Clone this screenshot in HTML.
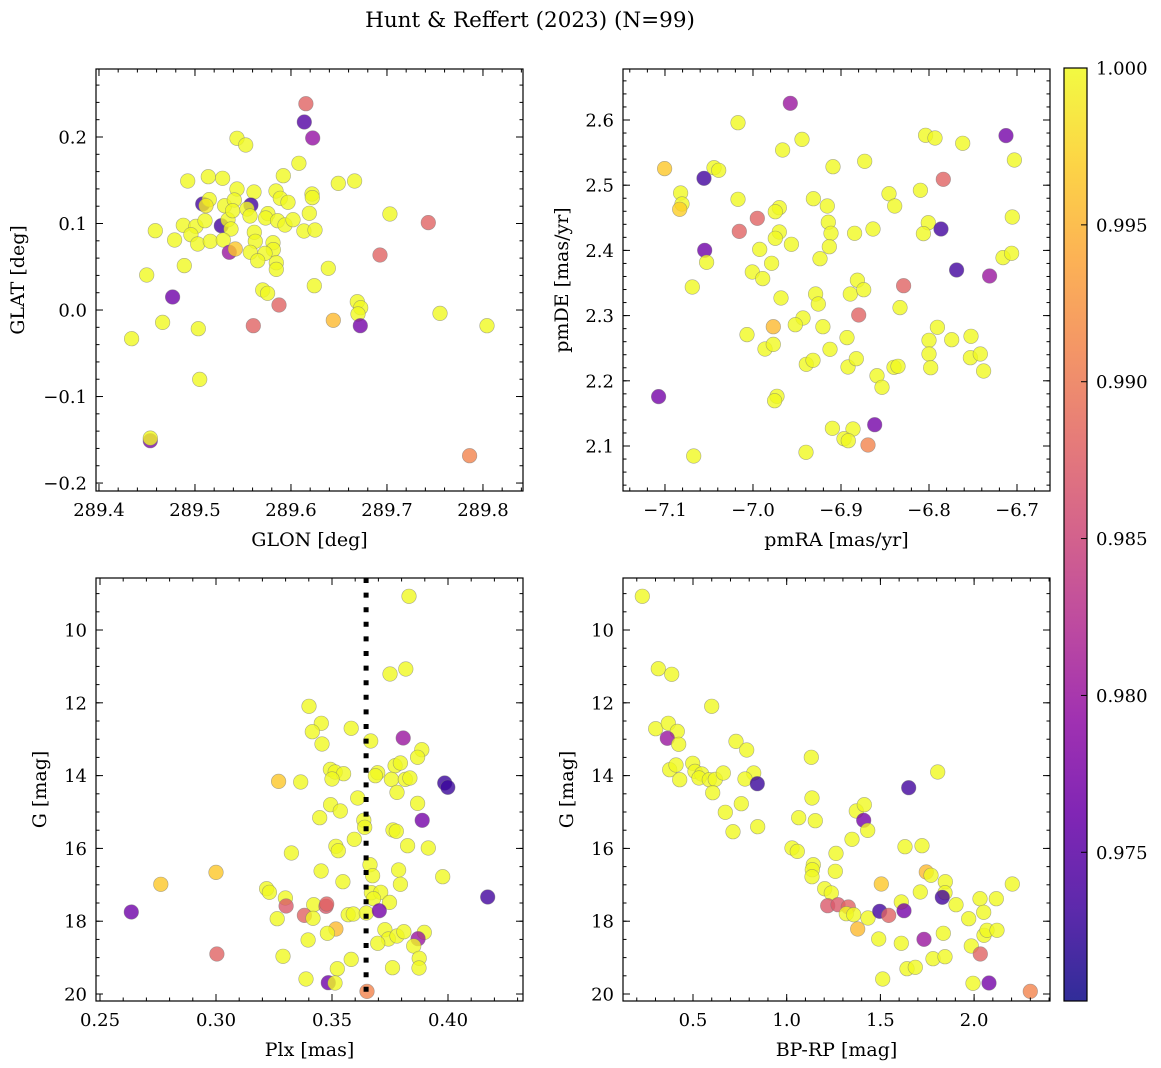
<!DOCTYPE html>
<html><head><meta charset="utf-8"><style>
html,body{margin:0;padding:0;background:#fff;}
svg{display:block;font-family:"DejaVu Serif","Liberation Serif",serif;}
</style></head><body>
<svg id="fig" width="1161" height="1068" viewBox="0 0 1161 1068" xmlns="http://www.w3.org/2000/svg">
<defs><linearGradient id="cbgrad" x1="0" y1="1" x2="0" y2="0">
<stop offset="0" stop-color="#0d0887"/><stop offset="0.1" stop-color="#41049d"/><stop offset="0.2" stop-color="#6a00a8"/><stop offset="0.3" stop-color="#8f0da4"/><stop offset="0.4" stop-color="#b12a90"/><stop offset="0.5" stop-color="#cc4778"/><stop offset="0.6" stop-color="#e16462"/><stop offset="0.7" stop-color="#f2844b"/><stop offset="0.8" stop-color="#fca636"/><stop offset="0.9" stop-color="#fcce25"/><stop offset="1" stop-color="#f0f921"/>
</linearGradient></defs>
<text x="530" y="27" text-anchor="middle" font-size="21.5">Hunt &amp; Reffert (2023) (N=99)</text>
</svg>
<script>
// ---- Panel 1: GLON vs GLAT ----
const glon=[289.6156,289.6139,289.6226,289.5438,289.5528,289.6083,289.4924,289.5139,289.5288,289.5920,289.6493,289.6663,289.5438,289.5615,289.5844,289.5889,289.5969,289.6219,289.6222,289.6191,289.7031,289.7431,289.6927,289.5080,289.5149,289.5115,289.5309,289.5410,289.5583,289.5542,289.5573,289.5760,289.5736,289.5861,289.5938,289.6021,289.5274,289.5344,289.5375,289.5392,289.4878,289.5010,289.5104,289.4587,289.4958,289.5028,289.5160,289.5295,289.4788,289.6135,289.6250,289.5618,289.5628,289.5813,289.5816,289.5576,289.5729,289.5653,289.5847,289.5847,289.5358,289.5420,289.4889,289.4497,289.6389,289.6243,289.5705,289.5757,289.4767,289.5875,289.6691,289.6726,289.6698,289.6722,289.6441,289.5608,289.7552,289.8042,289.4663,289.5035,289.4340,289.5049,289.4535,289.4535,289.7861];
const glat=[0.2385,0.2173,0.1988,0.1985,0.1908,0.1696,0.1491,0.1541,0.1522,0.1553,0.1464,0.1491,0.1399,0.1364,0.1376,0.1291,0.1245,0.1341,0.1299,0.1118,0.1110,0.1010,0.0636,0.1225,0.1276,0.1206,0.1206,0.1272,0.1214,0.1168,0.1087,0.1114,0.1064,0.1033,0.0983,0.1044,0.0975,0.1044,0.0936,0.1148,0.0979,0.0967,0.1033,0.0917,0.0871,0.0763,0.0794,0.0809,0.0809,0.0913,0.0925,0.0898,0.0794,0.0778,0.0698,0.0667,0.0655,0.0570,0.0547,0.0470,0.0667,0.0705,0.0513,0.0405,0.0482,0.0281,0.0231,0.0193,0.0150,0.0058,0.0096,0.0027,-0.0046,-0.0181,-0.0119,-0.0181,-0.0039,-0.0181,-0.0143,-0.0216,-0.0331,-0.0802,-0.1511,-0.1480,-0.1684];
const prob1=[0.988,0.9745,0.9795,1,1,1,1,1,1,1,1,1,1,1,1,1,1,1,1,1,1,0.988,0.988,0.9733,1,0.999,1,1,0.9733,1,1,1,1,1,1,1,0.9733,1,1,1,1,1,1,1,1,1,1,1,1,1,1,1,1,1,1,1,1,1,1,1,0.980,0.9965,1,1,1,1,1,1,0.9765,0.988,1,1,1,0.977,0.9955,0.988,1,1,1,1,1,1,0.9775,1,0.991];
// ---- Panel 2: pmRA vs pmDE ----
const pmra=[-6.9576,-7.0170,-6.9443,-6.9663,-7.1004,-7.0557,-7.0443,-7.0390,-6.9091,-6.8731,-6.8038,-6.7932,-6.7617,-6.7125,-6.7030,-6.7837,-7.0822,-7.0807,-7.0833,-7.0170,-6.9314,-6.9155,-6.9701,-6.9746,-6.9951,-7.0155,-6.8455,-6.8390,-6.8098,-6.8008,-6.8064,-6.7864,-6.7053,-6.9144,-6.9114,-6.8845,-6.8636,-6.9701,-6.9746,-6.9564,-6.9133,-7.0549,-7.0527,-6.9924,-6.9239,-6.9788,-7.0008,-6.9890,-7.0689,-6.7686,-6.7311,-6.7159,-6.7061,-6.8814,-6.8894,-6.8742,-6.8288,-6.9682,-6.9288,-6.9258,-6.8330,-6.8799,-6.9432,-6.9519,-6.9205,-6.9769,-7.0068,-6.9864,-6.9769,-6.9125,-6.8932,-6.7905,-6.8000,-6.8000,-6.7981,-6.7742,-6.7523,-6.7530,-6.7417,-6.7379,-6.9394,-6.9318,-6.8920,-6.8826,-6.8591,-6.8534,-6.8398,-6.8352,-7.1072,-6.9727,-6.9754,-6.8617,-6.9098,-6.8864,-6.8966,-6.8917,-6.8693,-6.9398,-7.0674];
const pmde=[2.6256,2.5959,2.5703,2.5540,2.5254,2.5105,2.5269,2.5228,2.5284,2.5366,2.5765,2.5724,2.5642,2.5760,2.5387,2.5090,2.4880,2.4712,2.4630,2.4783,2.4793,2.4681,2.4655,2.4594,2.4492,2.4292,2.4870,2.4681,2.4921,2.4425,2.4257,2.4328,2.4512,2.4433,2.4262,2.4262,2.4328,2.4282,2.4185,2.4093,2.4057,2.4001,2.3817,2.4016,2.3873,2.3802,2.3669,2.3567,2.3439,2.3699,2.3607,2.3889,2.3955,2.3543,2.3331,2.3398,2.3459,2.3270,2.3331,2.3178,2.3122,2.3009,2.2963,2.2861,2.2830,2.2830,2.2708,2.2488,2.2559,2.2483,2.2662,2.2820,2.2621,2.2411,2.2201,2.2631,2.2682,2.2355,2.2411,2.2150,2.2253,2.2314,2.2212,2.2339,2.2079,2.1900,2.2207,2.2222,2.1757,2.1762,2.1695,2.1327,2.1271,2.1261,2.1112,2.1082,2.1015,2.0903,2.0847];
const prob2=[0.980,1,1,1,0.9965,0.9733,1,1,1,1,1,1,1,0.977,1,0.988,1,1,0.997,1,1,1,1,1,0.988,0.988,1,1,1,1,1,0.9733,1,1,1,1,1,1,1,1,1,0.9765,1,1,1,1,1,1,1,0.9733,0.980,1,1,1,1,1,0.988,1,1,1,1,0.988,1,1,1,0.9955,1,1,1,1,1,1,1,1,1,1,1,1,1,1,1,1,1,1,1,1,1,1,0.977,1,1,0.977,1,1,1,1,0.991,1,1];
// ---- Panel 3: Plx vs G ----
const plx=[0.3832,0.3750,0.3818,0.3401,0.3454,0.3415,0.3457,0.3583,0.3667,0.3807,0.3887,0.3869,0.3772,0.3795,0.3493,0.3514,0.3550,0.3270,0.3365,0.3500,0.3697,0.3687,0.3756,0.3816,0.3836,0.3986,0.3999,0.3780,0.3869,0.3611,0.3494,0.3536,0.3447,0.3637,0.3641,0.3763,0.3777,0.3889,0.3596,0.3517,0.3527,0.3826,0.3915,0.3325,0.3453,0.3664,0.3675,0.3787,0.3795,0.3977,0.2762,0.3000,0.2635,0.4171,0.3218,0.3230,0.3547,0.3670,0.3710,0.3679,0.3748,0.3299,0.3302,0.3421,0.3474,0.3477,0.3381,0.3418,0.3264,0.3570,0.3592,0.3648,0.3704,0.3517,0.3480,0.3728,0.3743,0.3780,0.3810,0.3898,0.3871,0.3852,0.3697,0.3397,0.3289,0.3004,0.3583,0.3876,0.3875,0.3761,0.3523,0.3388,0.3484,0.3513,0.3651];
const gmag3=[9.075,11.209,11.071,12.097,12.564,12.793,13.132,12.701,13.049,12.967,13.288,13.498,13.727,13.654,13.828,13.901,13.947,14.158,14.176,14.093,13.919,14.002,14.103,14.103,14.066,14.203,14.322,14.460,14.762,14.615,14.799,14.973,15.156,15.229,15.421,15.495,15.531,15.229,15.751,15.943,16.062,15.925,15.989,16.126,16.621,16.447,16.749,16.593,16.987,16.777,16.987,16.658,17.747,17.335,17.106,17.207,16.914,17.216,17.207,17.381,17.482,17.363,17.582,17.546,17.591,17.527,17.839,17.921,17.930,17.821,17.802,17.775,17.711,18.214,18.333,18.233,18.489,18.407,18.288,18.306,18.480,18.681,18.608,18.516,18.965,18.901,19.048,19.020,19.286,19.277,19.304,19.588,19.689,19.698,19.927];
const prob3=[1,1,1,1,1,1,1,1,1,0.980,1,1,1,1,1,1,1,0.9965,1,1,1,1,1,1,1,0.9728,0.9728,1,1,1,1,1,1,1,1,1,1,0.977,1,1,1,1,1,1,1,1,1,1,1,1,0.9965,0.9965,0.9765,0.9733,1,1,1,1,1,1,1,1,0.987,1,0.987,0.988,0.988,1,1,1,1,1,0.977,0.9955,1,1,1,1,1,1,0.980,1,1,1,1,0.988,1,1,1,1,1,1,0.9765,1,0.991];
const plxLine=[0.3647];
// ---- Panel 4: BP-RP vs G ----
const bprp=[0.2296,0.3150,0.3862,0.5996,0.3008,0.3684,0.4164,0.3630,0.4235,0.7295,0.7864,1.1315,1.8056,0.3755,0.4093,0.4289,0.4982,0.5107,0.5462,0.5320,0.5872,0.6192,0.6619,0.6049,0.8237,0.7775,0.8433,1.6508,0.6725,0.7579,0.7134,0.8451,1.0639,1.1350,1.1528,1.3716,1.4143,1.4107,1.4320,1.3485,1.0283,1.0567,1.2631,1.6313,1.7220,1.1421,1.1368,1.1350,1.2595,1.2026,1.2382,1.7451,1.7700,1.5050,1.8465,2.2040,1.7131,1.8447,1.8305,1.9034,1.6117,2.0315,2.1186,2.0511,1.9710,1.2186,1.2737,1.3289,1.3182,1.3573,1.4338,1.4961,1.5441,1.6259,1.3787,1.4908,1.6117,1.7326,1.8358,2.0528,2.0689,2.1222,1.9852,2.0333,1.7807,1.8447,1.6419,1.6864,1.5121,1.9941,2.0795,2.3001];
const gmag4=[9.075,11.062,11.218,12.097,12.711,12.564,12.784,12.976,13.141,13.059,13.297,13.498,13.901,13.837,13.709,14.112,13.663,13.883,13.956,14.066,14.112,14.103,13.929,14.469,13.929,14.093,14.222,14.332,15.009,14.771,15.540,15.403,15.156,14.615,15.238,14.973,14.799,15.229,15.504,15.751,15.989,16.081,16.136,15.952,15.925,16.447,16.584,16.777,16.630,17.106,17.225,16.648,16.740,16.978,16.914,16.978,17.198,17.216,17.344,17.546,17.473,17.381,17.381,17.756,17.930,17.573,17.546,17.610,17.793,17.821,17.912,17.729,17.839,17.711,18.214,18.489,18.608,18.498,18.333,18.388,18.251,18.251,18.681,18.901,19.029,18.974,19.304,19.267,19.588,19.707,19.698,19.927];
const prob4=[1,1,1,1,1,1,1,0.980,1,1,1,1,1,1,1,1,1,1,1,1,1,1,1,1,1,1,0.9728,0.9733,1,1,1,1,1,1,1,1,1,0.977,1,1,1,1,1,1,1,1,1,1,1,1,1,0.9955,1,0.9965,1,1,1,1,0.9733,1,1,1,1,1,1,0.987,0.987,0.988,1,1,1,0.9733,0.988,0.977,0.9955,1,1,0.980,1,1,1,1,1,0.988,1,1,1,1,1,1,0.977,0.991];
// ---- Colorbar ----
const cbTicks=[0.975,0.980,0.985,0.990,0.995,1.000];
const cbMin=0.97026, cbMax=1.0;

const NS="http://www.w3.org/2000/svg";
const svg=document.getElementById('fig');
function mk(tag,attrs,parent){const e=document.createElementNS(NS,tag);for(const k in attrs)e.setAttribute(k,attrs[k]);(parent||svg).appendChild(e);return e;}
const stops=[[13,8,135],[65,4,157],[106,0,168],[143,13,164],[177,42,144],[204,71,120],[225,100,98],[242,132,75],[252,166,54],[252,206,37],[240,249,33]];
function plasma(p){let t=(p-cbMin)/(cbMax-cbMin);t=Math.max(0,Math.min(1,t))*10;const i=Math.min(9,Math.floor(t)),f=t-i;const a=stops[i],b=stops[i+1];return 'rgb('+a.map((v,k)=>Math.round(v+(b[k]-v)*f)).join(',')+')';}
function fmt(v,d){const s=Math.abs(v).toFixed(d);return (v<-1e-9?'\u2212':'')+s;}

function panel(o){
  const g=mk('g',{});
  
  
  const L=o.box[0],T=o.box[1],R=o.box[2],B=o.box[3];
  const sx=v=>L+(v-o.xr[0])/(o.xr[1]-o.xr[0])*(R-L);
  const sy=o.yinv?(v=>T+(v-o.yr[0])/(o.yr[1]-o.yr[0])*(B-T)):(v=>B-(v-o.yr[0])/(o.yr[1]-o.yr[0])*(B-T));
  const pts=mk('g',{},g);
  
  
  for(let i=0;i<o.x.length;i++){
    const c=mk('circle',{cx:sx(o.x[i]).toFixed(1),cy:sy(o.y[i]).toFixed(1),r:7.3,fill:plasma(o.p[i]),'fill-opacity':0.8,stroke:'#777','stroke-opacity':0.6,'stroke-width':0.6},pts);
    
    
  }
  if(o.vline){for(const v of o.vline){const ln=mk('line',{x1:sx(v),x2:sx(v),y1:T,y2:B,stroke:'#000','stroke-width':5,'stroke-dasharray':'5,9.6'},g);
    
    }}
  const fr=mk('rect',{x:L,y:T,width:R-L,height:B-T,fill:'none',stroke:'#000','stroke-width':1.2},g);
  
  
  const tk=mk('g',{stroke:'#000','stroke-width':1},g);
  
  
  const xmin=Math.min(o.xr[0],o.xr[1]),xmax=Math.max(o.xr[0],o.xr[1]);
  const ymin=Math.min(o.yr[0],o.yr[1]),ymax=Math.max(o.yr[0],o.yr[1]);
  for(let k=Math.ceil(xmin/o.xminor-1e-6);k*o.xminor<=xmax+1e-9;k++){const v=k*o.xminor,x=sx(v);
    mk('line',{x1:x,x2:x,y1:B,y2:B-3.5},tk);mk('line',{x1:x,x2:x,y1:T,y2:T+3.5},tk);}
  for(let k=Math.ceil(ymin/o.yminor-1e-6);k*o.yminor<=ymax+1e-9;k++){const v=k*o.yminor,y=sy(v);
    mk('line',{x1:L,x2:L+3.5,y1:y,y2:y},tk);mk('line',{x1:R,x2:R-3.5,y1:y,y2:y},tk);}
  for(const v of o.xt){const x=sx(v);
    mk('line',{x1:x,x2:x,y1:B,y2:B-7},tk);mk('line',{x1:x,x2:x,y1:T,y2:T+7},tk);
    const t=mk('text',{x:x,y:B+25,'text-anchor':'middle','font-size':18},g);t.textContent=fmt(v,o.xd);
    
    }
  for(const v of o.yt){const y=sy(v);
    mk('line',{x1:L,x2:L+7,y1:y,y2:y},tk);mk('line',{x1:R,x2:R-7,y1:y,y2:y},tk);
    const t=mk('text',{x:L-9,y:y+6.5,'text-anchor':'end','font-size':18},g);t.textContent=fmt(v,o.yd);
    
    }
  const xl=mk('text',{x:(L+R)/2,y:B+55,'text-anchor':'middle','font-size':19},g);xl.textContent=o.xlab;
  
  
  const yl=mk('text',{x:0,y:0,'text-anchor':'middle','font-size':19,transform:`translate(${o.ylx},${(T+B)/2}) rotate(-90)`},g);yl.textContent=o.ylab;
  
  
}
panel({name:'glon-glat-panel',box:[96,69,523,491],xr:[289.3969,289.8417],yr:[-0.2092,0.2786],x:glon,y:glat,p:prob1,xt:[289.4,289.5,289.6,289.7,289.8],yt:[-0.2,-0.1,0,0.1,0.2],xd:1,yd:1,xminor:0.02,yminor:0.02,xlab:'GLON [deg]',ylab:'GLAT [deg]',ylx:24});
panel({name:'proper-motion-panel',box:[623,69,1050,491],xr:[-7.1477,-6.6625],yr:[2.031,2.6782],x:pmra,y:pmde,p:prob2,xt:[-7.1,-7.0,-6.9,-6.8,-6.7],yt:[2.1,2.2,2.3,2.4,2.5,2.6],xd:1,yd:1,xminor:0.02,yminor:0.02,xlab:'pmRA [mas/yr]',ylab:'pmDE [mas/yr]',ylx:568});
panel({name:'parallax-magnitude-panel',box:[96,578,523,1001],xr:[0.24828,0.43233],yr:[8.571,20.192],yinv:true,x:plx,y:gmag3,p:prob3,xt:[0.25,0.30,0.35,0.40],yt:[10,12,14,16,18,20],xd:2,yd:0,xminor:0.01,yminor:0.5,xlab:'Plx [mas]',ylab:'G [mag]',ylx:46,vline:plxLine});
panel({name:'color-magnitude-panel',box:[623,578,1050,1001],xr:[0.1265,2.405],yr:[8.571,20.192],yinv:true,x:bprp,y:gmag4,p:prob4,xt:[0.5,1.0,1.5,2.0],yt:[10,12,14,16,18,20],xd:1,yd:0,xminor:0.1,yminor:0.5,xlab:'BP-RP [mag]',ylab:'G [mag]',ylx:573});

const cb=mk('g',{});


const cT=68,cB=1001,cL=1064,cR=1087;
mk('rect',{x:cL,y:cT,width:cR-cL,height:cB-cT,fill:'url(#cbgrad)','fill-opacity':0.85},cb);
mk('rect',{x:cL,y:cT,width:cR-cL,height:cB-cT,fill:'none',stroke:'#000','stroke-width':1.2},cb);
const cy=v=>cB-(v-cbMin)/(cbMax-cbMin)*(cB-cT);
for(const v of cbTicks){const y=cy(v);
  mk('line',{x1:cR,x2:cR-6,y1:y,y2:y,stroke:'#000','stroke-width':1},cb);
  const t=mk('text',{x:cR+9,y:y+6.5,'font-size':18},cb);t.textContent=v.toFixed(3);
  
  }
</script>
</body></html>
